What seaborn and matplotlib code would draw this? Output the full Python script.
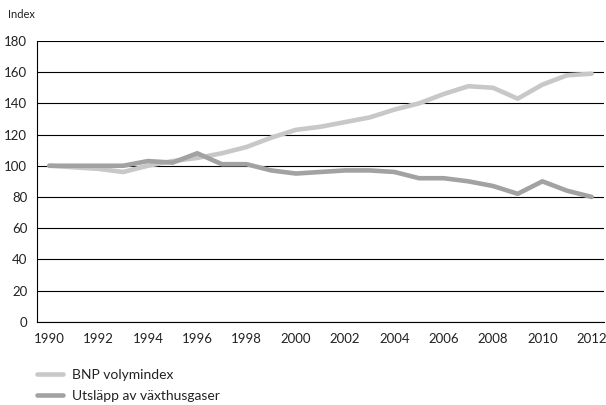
import pandas as pd
import matplotlib.pyplot as plt
import seaborn as sns

# Data
years = list(range(1990, 2013))
bnp = [100, 99, 98, 96, 100, 103, 105, 108, 112, 118, 123, 125, 128, 131,
       136, 140, 146, 151, 150, 143, 152, 158, 159]
utslapp = [100, 100, 100, 100, 103, 102, 108, 101, 101, 97, 95, 96, 97, 97,
           96, 92, 92, 90, 87, 82, 90, 84, 80]
series_names = ['BNP volymindex', 'Utsläpp av växthusgaser']
y_ticks = [0, 20, 40, 60, 80, 100, 120, 140, 160, 180]

df = pd.DataFrame({'year': years * 2,
                   'value': bnp + utslapp,
                   'series': [series_names[0]] * len(years) + [series_names[1]] * len(years)})

sns.set_style('white')
plt.rcParams['font.family'] = ['Lato', 'DejaVu Sans']

fig = plt.figure(figsize=(6.06, 4.05), dpi=100)
ax = fig.add_axes([0.061, 0.2057, 0.9357, 0.6931])

palette = {series_names[0]: '#c8c8c8', series_names[1]: '#a2a2a2'}
sns.lineplot(data=df, x='year', y='value', hue='series', palette=palette,
             linewidth=3.3, ax=ax, legend=False)

ax.set_xlim(1989.5, 2012.5)
ax.set_ylim(0, 180)
ax.set_yticks(y_ticks)
ax.set_xticks(years[::2])
ax.set_xticks([y - 0.5 for y in years] + [2012.5], minor=True)
ax.tick_params(axis='x', which='major', length=0, pad=8, labelsize=9.5, colors='#222222')
ax.tick_params(axis='x', which='minor', length=4, width=0.8, color='black', direction='out')
ax.tick_params(axis='y', length=4, width=0.8, color='black', labelsize=9.5,
               labelcolor='#222222', pad=3)
ax.yaxis.grid(True, color='black', linewidth=0.8)
ax.set_axisbelow(True)
for s in ['top', 'right']:
    ax.spines[s].set_visible(False)
for s in ['left', 'bottom']:
    ax.spines[s].set_color('black')
    ax.spines[s].set_linewidth(0.8)
ax.set_xlabel('')
ax.set_ylabel('')

fig.text(8 / 606, 1 - 15 / 405, 'Index', fontsize=8, color='#222222', va='center', ha='left')

# Legend below the axes
handles = [plt.Line2D([], [], color=palette[n], linewidth=3.3) for n in series_names]
fig.legend(handles, series_names, loc='upper left',
           bbox_to_anchor=(31 / 606, 1 - 363 / 405), borderaxespad=0,
           frameon=False, fontsize=10, handlelength=1.9, handletextpad=0.65,
           labelspacing=0.65, labelcolor='#222222')

fig.savefig('out.png', dpi=100)
